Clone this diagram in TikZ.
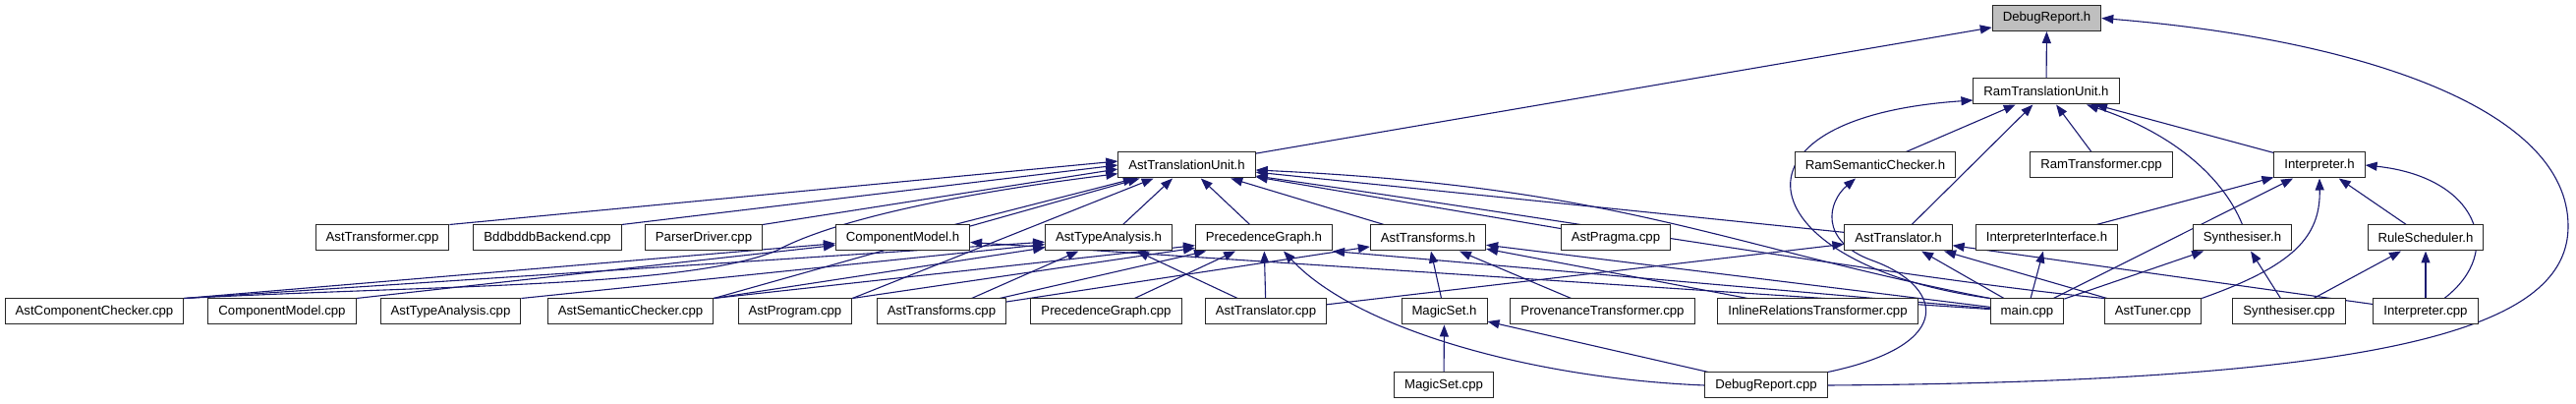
\documentclass[tikz,border=0pt]{standalone}
\usepackage{fontspec}
\setmainfont{Liberation Sans}
\usepackage{tikz}
\usetikzlibrary{arrows.meta,backgrounds}
\definecolor{edgeblue}{HTML}{191970}
\definecolor{headgray}{HTML}{BFBFBF}

\begin{document}
\begin{tikzpicture}[
  x=1pt, y=-1pt,
  file/.style={draw=black!85, line width=1pt, fill=#1, inner xsep=10.5pt, inner ysep=0pt,
    minimum height=26pt, font=\fontsize{13.2}{15}\selectfont},
  file/.default=white,
  dep/.style={-{Triangle[length=12pt,width=9pt]}, edgeblue, line width=1.1pt},
]
  \useasboundingbox (0,0) rectangle (2621,411);

  % Top
  \node[file=headgray] (dbgh) at (2082.5,18.5) {DebugReport.h};
  \node[file] (ramtu) at (2082,93) {RamTranslationUnit.h};

  % Row 2
  \node[file] (atu)    at (1207.5,168) {AstTranslationUnit.h};
  \node[file] (ramsc)  at (1908,168)   {RamSemanticChecker.h};
  \node[file] (ramtr)  at (2138,168)   {RamTransformer.cpp};
  \node[file] (interh) at (2360,168)   {Interpreter.h};

  % Row 3
  \node[file] (asttrf) at (389,242)    {AstTransformer.cpp};
  \node[file] (bddb)   at (557,242)    {BddbddbBackend.cpp};
  \node[file] (parser) at (716,242)    {ParserDriver.cpp};
  \node[file] (cmh)    at (918.5,242)  {ComponentModel.h};
  \node[file] (tah)    at (1128,242)   {AstTypeAnalysis.h};
  \node[file] (pgh)    at (1286,242)   {PrecedenceGraph.h};
  \node[file] (atfh)   at (1453,242)   {AstTransforms.h};
  \node[file] (pragma) at (1644,242)   {AstPragma.cpp};
  \node[file] (atrh)   at (1931.5,242) {AstTranslator.h};
  \node[file] (iih)    at (2082.5,242) {InterpreterInterface.h};
  \node[file] (synh)   at (2281.5,242) {Synthesiser.h};
  \node[file] (rsh)    at (2468,242)   {RuleScheduler.h};

  % Row 4
  \node[file] (acc)    at (96,317)     {AstComponentChecker.cpp};
  \node[file] (cmc)    at (287,317)    {ComponentModel.cpp};
  \node[file] (tac)    at (458.5,317)  {AstTypeAnalysis.cpp};
  \node[file] (asc)    at (641.5,317)  {AstSemanticChecker.cpp};
  \node[file] (prog)   at (809,317)    {AstProgram.cpp};
  \node[file] (atfc)   at (958,317)    {AstTransforms.cpp};
  \node[file] (pgc)    at (1125.5,317) {PrecedenceGraph.cpp};
  \node[file] (atrc)   at (1288,317)   {AstTranslator.cpp};
  \node[file] (msh)    at (1469.5,317) {MagicSet.h};
  \node[file] (prov)   at (1630.5,317) {ProvenanceTransformer.cpp};
  \node[file] (inl)    at (1849.5,317) {InlineRelationsTransformer.cpp};
  \node[file] (mainc)  at (2062.5,317) {main.cpp};
  \node[file] (tuner)  at (2190.5,317) {AstTuner.cpp};
  \node[file] (sync)   at (2329,317)   {Synthesiser.cpp};
  \node[file] (interc) at (2468,317)   {Interpreter.cpp};

  % Row 5
  \node[file] (msc)    at (1469,392)   {MagicSet.cpp};
  \node[file] (drc)    at (1797,392)   {DebugReport.cpp};

  \begin{scope}[on background layer]
  % DebugReport.h
  \draw[dep] (atu) -- (dbgh);
  \draw[dep] (ramtu) -- (dbgh);
  \draw[dep] (drc.east) .. controls (2450,388) and (2613,330) .. (2613,230)
    .. controls (2613,110) and (2400,40) .. (dbgh.east);

  % RamTranslationUnit.h
  \draw[dep] (ramsc) -- (ramtu);
  \draw[dep] (atrh) -- (ramtu);
  \draw[dep] (ramtr) -- (ramtu);
  \draw[dep] (synh.north) .. controls (2262,180) and (2210,135) .. (ramtu);
  \draw[dep] (interh) -- (ramtu);
  \draw[dep] (mainc.north west) .. controls (1780,270) and (1740,120) .. ([yshift=-9pt]ramtu.west);

  % Interpreter.h
  \draw[dep] (iih) -- (interh);
  \draw[dep] (mainc) -- (interh);
  \draw[dep] (tuner.north east) .. controls (2335,270) and (2361,240) .. (interh.south);
  \draw[dep] (rsh) -- (interh);
  \draw[dep] ([xshift=19pt]interc.north) .. controls (2550,255) and (2520,180) .. (interh.east);

  % Synthesiser.h, RuleScheduler.h, InterpreterInterface.h
  \draw[dep] (mainc) -- (synh);
  \draw[dep] (sync) -- (synh);
  \draw[dep] (sync) -- (rsh);
  \draw[dep] (interc) -- (rsh);
  \draw[dep] (mainc) -- (iih);

  % AstTranslator.h
  \draw[dep] (atrc) -- (atrh);
  \draw[dep] (mainc) -- (atrh);
  \draw[dep] (tuner) -- (atrh);
  \draw[dep] (interc) -- (atrh);

  % RamSemanticChecker.h
  \draw[dep] (drc.north east) .. controls (1995,350) and (1975,290) .. (1905,265)
    .. controls (1850,245) and (1860,205) .. ([xshift=-20pt]ramsc.south);

  % AstTranslationUnit.h
  \draw[dep] (asttrf.north east) -- ([yshift=4pt]atu.west);
  \draw[dep] (bddb.north east) -- (atu.west);
  \draw[dep] (parser.north east) -- ([yshift=-4pt]atu.west);
  \draw[dep] (cmh) -- (atu);
  \draw[dep] (tah) -- (atu);
  \draw[dep] (pgh) -- (atu);
  \draw[dep] (atfh) -- (atu);
  \draw[dep] (pragma) -- (atu);
  \draw[dep] (atrh) -- (atu);
  \draw[dep] (asc.north east) -- (atu);
  \draw[dep] (prog.north east) -- (atu);
  \draw[dep] (acc.north east) .. controls (450,290) and (700,292) .. (790,255)
    .. controls (840,228) and (950,200) .. (atu);
  \draw[dep] (mainc.north west) .. controls (1750,250) and (1650,190) .. ([yshift=-5pt]atu.east);
  \draw[dep] (tuner.north west) .. controls (1950,285) and (1600,225) .. ([yshift=-11pt]atu.east);

  % ComponentModel.h
  \draw[dep] (acc.north east) -- (cmh);
  \draw[dep] (cmc.north east) -- (cmh);
  \draw[dep] (mainc) -- (cmh);

  % AstTypeAnalysis.h
  \draw[dep] (acc.north east) -- (tah);
  \draw[dep] (tac.north east) -- (tah);
  \draw[dep] (asc.north east) -- (tah);
  \draw[dep] (atfc) -- (tah);
  \draw[dep] (atrc) -- (tah);

  % PrecedenceGraph.h
  \draw[dep] (asc.north east) -- (pgh);
  \draw[dep] (prog.north east) -- (pgh);
  \draw[dep] (atfc) -- (pgh);
  \draw[dep] (pgc) -- (pgh);
  \draw[dep] (atrc) -- (pgh);
  \draw[dep] (mainc) -- (pgh.south east);
  \draw[dep] (drc.west) .. controls (1560,385) and (1380,335) .. ([xshift=20pt]pgh.south);

  % AstTransforms.h
  \draw[dep] (atfc) -- (atfh);
  \draw[dep] (msh) -- (atfh);
  \draw[dep] (prov) -- (atfh);
  \draw[dep] (inl) -- (atfh);
  \draw[dep] (mainc) -- (atfh);

  % MagicSet.h
  \draw[dep] (msc) -- (msh);
  \draw[dep] (drc) -- (msh);
  \end{scope}
\end{tikzpicture}
\end{document}
